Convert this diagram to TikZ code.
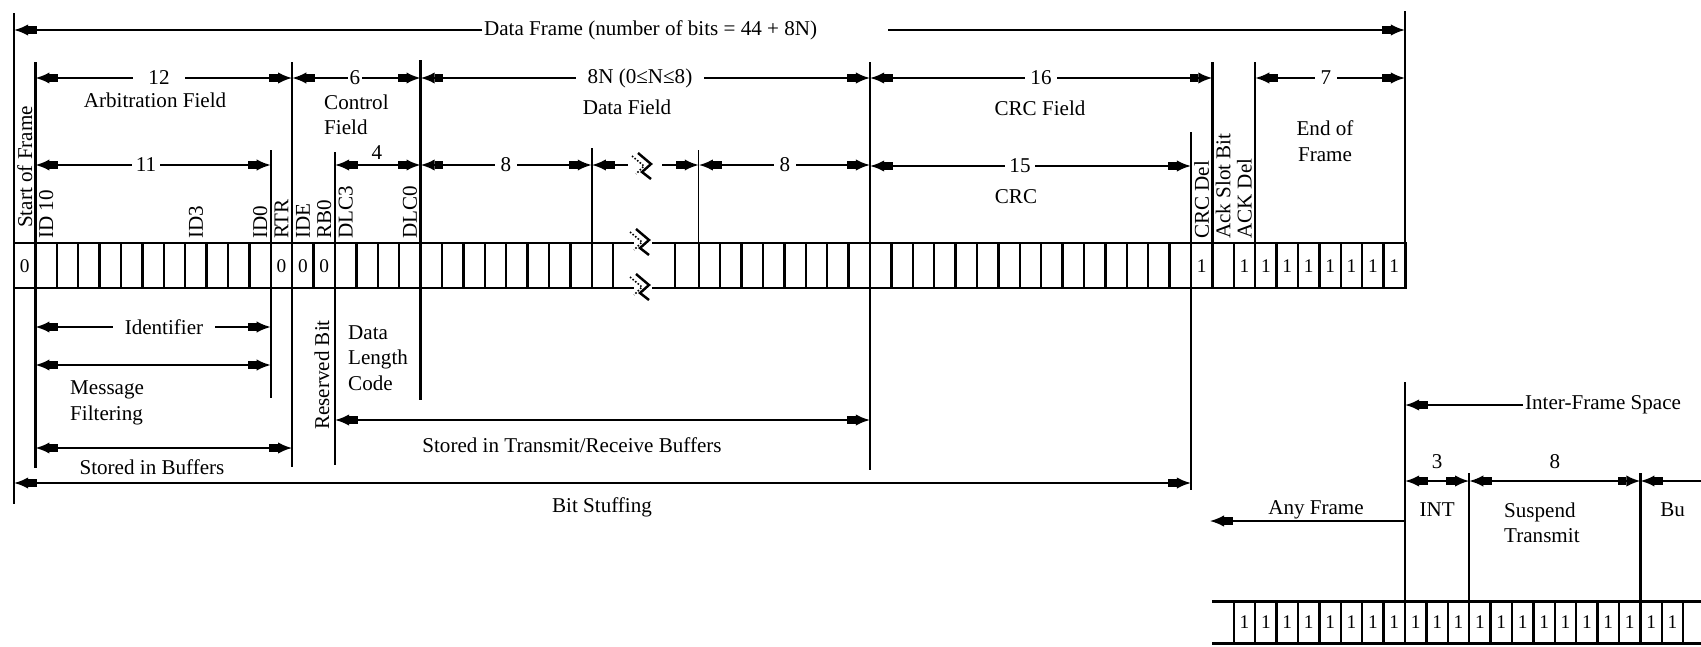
\documentclass[tikz,border=0pt]{standalone}
\usepackage{fontspec}
\setmainfont{Liberation Serif}
\usetikzlibrary{arrows.meta}

% x of the k-th bit boundary: data frame row and inter-frame row
\newcommand{\bx}[1]{14+21.4*(#1)}
\newcommand{\ix}[1]{1233.8+21.4*(#1)}
% break mark across a line
\newcommand{\brkmark}[2]{%
  \fill[white] ({#1-9},{#2-5}) rectangle ({#1+9},{#2+5});
  \draw[line width=1.4pt] ({#1-7},{#2-14}) -- ({#1+6},{#2-3}) -- ({#1-3},{#2+5}) -- ({#1+6},{#2+12});
  \draw[line width=0.9pt, densely dotted] ({#1-13},{#2-11}) -- ({#1-1},{#2-1}) -- ({#1-9},{#2+7});}

\begin{document}
\begin{tikzpicture}[x=0.02cm, y=-0.02cm, font=\fontsize{12}{14.5}\selectfont,
  frm/.style={line width=1.7pt},
  cell/.style={line width=1.3pt},
  bar/.style={line width=1.4pt},
  thin bar/.style={line width=0.7pt},
  dim/.style={line width=1.3pt, {Latex[length=8pt,width=6.5pt,sep=0pt]Rectangle[length=5pt,width=4pt]}-{Rectangle[length=5pt,width=4pt,sep=0pt]Latex[length=8pt,width=6.5pt]}},
  dimR/.style={line width=1.3pt, -{Rectangle[length=5pt,width=4pt,sep=0pt]Latex[length=8pt,width=6.5pt]}},
  dimL/.style={line width=1.3pt, {Latex[length=8pt,width=6.5pt,sep=0pt]Rectangle[length=5pt,width=4pt]}-},
  gap/.style={fill=white, inner ysep=1pt},
  vlabel/.style={rotate=90, anchor=west, inner sep=1pt},
  bitval/.style={font=\fontsize{11}{13}\selectfont, inner sep=0pt}]
\useasboundingbox (0,0) rectangle (1701,646);

% data frame row
\draw[frm] ({\bx{0}},243) rectangle ({\bx{65}},288);
\foreach \k in {1,...,28}
  \draw[cell] ({\bx{\k}},243) -- ({\bx{\k}},288);
\foreach \k in {32,...,64}
  \draw[cell] ({\bx{\k}},243) -- ({\bx{\k}},288);
\draw[cell] (675,243) -- (675,288);
\foreach \k/\v in {0/0,12/0,13/0,14/0,55/1,57/1,58/1,59/1,60/1,61/1,62/1,63/1,64/1}
  \node[bitval] (v\k) at ({\bx{\k+0.5}},266) {\v};
\brkmark{643}{243}
\brkmark{643}{288}

% bit names
\node[vlabel] (sof) at ({\bx{0.5}},230) {Start of Frame};
\foreach \k/\t in {1/ID 10,8/ID3,11/ID0,12/RTR,13/IDE,14/RB0,15/DLC3,18/DLC0,55/CRC Del,56/Ack Slot Bit,57/ACK Del}
  \node[vlabel] (l\k) at ({\bx{\k+0.5}},241) {\t};

% field boundaries
\foreach \k/\ya/\yb in {0/13/504,65/11/288,1/62/468,12/150/398,13/62/467,15/152/465,19/60/400,27/148/243,40/62/470,56/62/243,58/62/243}
  \draw[bar] ({\bx{\k}},\ya) -- ({\bx{\k}},\yb);
\draw[thin bar] ({\bx{32}},150) -- ({\bx{32}},243);
\draw[thin bar] ({\bx{55}},132) -- ({\bx{55}},490);

% whole frame
\node[anchor=west, inner sep=1pt] (frame) at (482,30) {Data Frame (number of bits = 44 + 8N)};
\draw[dimR] (frame.west) -- ({\bx{0}},30);
\draw[dimR] (888,30) -- ({\bx{65}},30);

% fields
\draw[dim] ({\bx{1}},78) -- ({\bx{13}},78);
\node[gap, inner xsep=9pt] (n12) at (159,78) {12};
\node (arb) at (155,100) {Arbitration Field};
\draw[dim] ({\bx{13}},78) -- ({\bx{19}},78);
\node[gap, inner xsep=1pt] (n6) at (355,78) {6};
\node[anchor=west, align=left] (ctrl) at (318,115) {Control\\Field};
\draw[dim] ({\bx{19}},78) -- ({\bx{40}},78);
\node[gap, inner xsep=6.5pt] (n8N) at (640,78) {8N (0≤N≤8)};
\node (data) at (627,107) {Data Field};
\draw[dim] ({\bx{40}},78) -- ({\bx{56}},78);
\node[gap, inner xsep=3pt] (n16) at (1041,78) {16};
\node (crcf) at (1040,108) {CRC Field};
\draw[dim] ({\bx{58}},78) -- ({\bx{65}},78);
\node[gap, inner xsep=3pt] (n7) at (1326,78) {7};
\node[align=center] (eof) at (1325,141) {End of\\Frame};

% sub-fields
\draw[dim] ({\bx{1}},165) -- ({\bx{12}},165);
\node[gap, inner xsep=2pt] (n11) at (146,165) {11};
\draw[dim] ({\bx{15}},165) -- ({\bx{19}},165);
\node (n4) at (377,153) {4};
\draw[dim] ({\bx{19}},165) -- ({\bx{27}},165);
\node[gap, inner xsep=3.5pt] (n8a) at (506,165) {8};
\draw[dimL] ({\bx{27}},165) -- (628,165);
\draw[dimR] (662,165) -- ({\bx{32}},165);
\brkmark{645}{167}
\draw[dim] ({\bx{32}},165) -- ({\bx{40}},165);
\node[gap, inner xsep=3.5pt] (n8b) at (785,165) {8};
\draw[dim] ({\bx{40}},166) -- ({\bx{55}},166);
\node[gap, inner xsep=2.5pt] (n15) at (1020,166) {15};
\node (crc) at (1016,197) {CRC};

% below the row
\draw[dim] ({\bx{1}},327) -- ({\bx{12}},327);
\node[gap, inner xsep=6.5pt] (ident) at (164,327) {Identifier};
\draw[dim] ({\bx{1}},365) -- ({\bx{12}},365);
\node[anchor=west, align=left] (filt) at (64,403) {Message\\Filtering};
\draw[dim] ({\bx{1}},448) -- ({\bx{13}},448);
\node (buf) at (152,467) {Stored in Buffers};
\node[rotate=90] (resv) at (322,375) {Reserved Bit};
\node[anchor=west, align=left] (dlc) at (342,358) {Data\\Length\\Code};
\draw[dim] ({\bx{15}},420) -- ({\bx{40}},420);
\node (trx) at (572,445) {Stored in Transmit/Receive Buffers};
\draw[dim] ({\bx{0}},483) -- ({\bx{55}},483);
\node (stuff) at (602,507) {Bit Stuffing};

% inter-frame space
\draw[bar] ({\bx{65}},382) -- ({\bx{65}},601);
\node[anchor=west, inner sep=1pt] (ifs) at (1523,405) {Inter-Frame Space};
\draw[dimR] (ifs.west) -- ({\bx{65}},405);
\draw[bar] ({\ix{11}},473) -- ({\ix{11}},601);
\draw[bar] ({\ix{19}},473) -- ({\ix{19}},601);
\draw[dim] ({\ix{8}},481) -- ({\ix{11}},481);
\draw[dim] ({\ix{11}},481) -- ({\ix{19}},481);
\draw[dimL] ({\ix{19}},481) -- (1701,481);
\node (n3) at ({\ix{9.5}},462) {3};
\node (n8c) at ({\ix{15}},462) {8};
\node (int) at ({\ix{9.5}},510) {INT};
\node[anchor=west, align=left] (susp) at (1498,523) {Suspend\\Transmit};
\node[anchor=west, inner sep=0pt] (idle) at (1660,510) {Bu};
\node (any) at (1316,510) {Any Frame};
\draw[line width=0.9pt, -{Rectangle[length=5pt,width=4pt,sep=0pt]Latex[length=8pt,width=6.5pt]}] ({\bx{65}},521) -- (1210,521);

% inter-frame row
\draw[frm] (1212,601) -- (1701,601);
\draw[frm] (1212,643) -- (1701,643);
\foreach \j in {0,...,21}
  \draw[cell] ({\ix{\j}},601) -- ({\ix{\j}},643);
\foreach \j in {0,...,20}
  \node[bitval] (w\j) at ({\ix{\j+0.5}},622) {1};
\end{tikzpicture}
\end{document}
